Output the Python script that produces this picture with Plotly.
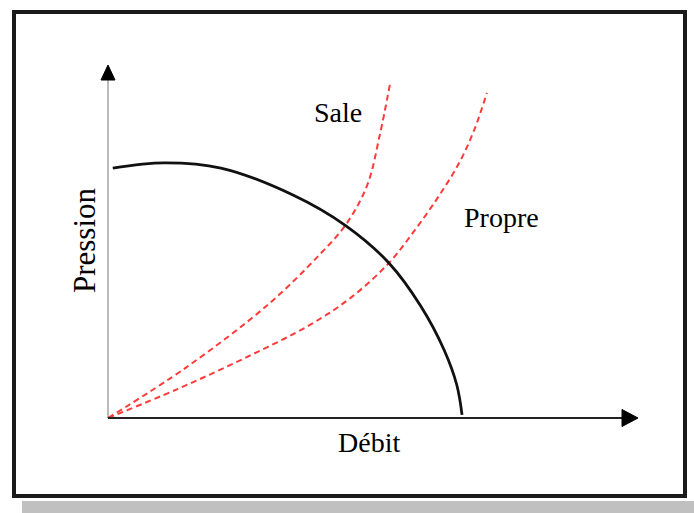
import plotly.graph_objects as go

# Pump curve (Pression vs Débit), arbitrary units 0-100
pump_x = [0.9, 10.6, 21.3, 34.9, 44.9, 53.0, 59.0, 63.4, 65.8, 66.8]
pump_y = [71.4, 72.9, 71.4, 63.7, 54.9, 44.3, 32.0, 19.5, 9.5, 0.9]

# System curve "Sale" (dirty)
sale_x = [0.0, 14.7, 30.2, 40.0, 44.9, 48.9, 51.3, 53.2]
sale_y = [0.0, 14.4, 32.4, 46.8, 55.3, 66.5, 81.0, 95.4]

# System curve "Propre" (clean)
propre_x = [0.0, 13.0, 25.5, 38.1, 46.0, 53.0, 58.0, 62.5, 66.3, 69.1, 71.5]
propre_y = [0.0, 8.2, 16.9, 26.6, 34.6, 44.3, 53.9, 63.6, 73.0, 82.3, 92.9]

labels = {"sale": "Sale", "propre": "Propre", "x": "Débit", "y": "Pression"}

W, H = 694, 513
# pixel mapping: origin at (108, 418); 1 unit = 5.3 px in x, 3.5 px in y
ox, oy, sx, sy = 108, 418, 5.3, 3.5
xr = [(0 - ox) / sx, (W - ox) / sx]
yr = [(oy - H) / sy, oy / sy]

FONT = "Liberation Serif"
RED = "#ff3a3a"

fig = go.Figure()
fig.add_trace(go.Scatter(x=sale_x, y=sale_y, mode="lines", line_shape="spline",
                         line=dict(color=RED, width=2, dash="6px,4px"), hoverinfo="skip"))
fig.add_trace(go.Scatter(x=propre_x, y=propre_y, mode="lines", line_shape="spline",
                         line=dict(color=RED, width=2, dash="6px,4px"), hoverinfo="skip"))
fig.add_trace(go.Scatter(x=pump_x, y=pump_y, mode="lines", line_shape="spline",
                         line=dict(color="#111111", width=2.8), hoverinfo="skip"))

# axes with arrows
ytop = (oy - 80) / sy
ytip = (oy - 65) / sy
xend = (622 - ox) / sx
xtip = (638 - ox) / sx
hw_x = 7 / sx
hh_y = 8.5 / sy
shapes = [
    dict(type="line", x0=0, y0=0, x1=0, y1=ytop, line=dict(color="#777777", width=1)),
    dict(type="line", x0=0, y0=0, x1=xend, y1=0, line=dict(color="#222222", width=2)),
    dict(type="path", path=f"M {-hw_x} {ytop} L {hw_x} {ytop} L 0 {ytip} Z",
         fillcolor="black", line=dict(color="black", width=1)),
    dict(type="path", path=f"M {xend} {-hh_y} L {xend} {hh_y} L {xtip} 0 Z",
         fillcolor="black", line=dict(color="black", width=1)),
    # frame
    dict(type="rect", xref="paper", yref="paper",
         x0=14 / W, x1=685 / W, y0=1 - 496 / H, y1=1 - 12 / H,
         line=dict(color="#1a1a1a", width=4)),
    # shadow bar
    dict(type="rect", xref="paper", yref="paper",
         x0=22 / W, x1=1, y0=0, y1=1 - 501 / H,
         fillcolor="#c0c0c0", line=dict(width=0)),
]

ann = [
    dict(x=43.4, y=87.4, text=labels["sale"], font_size=28),
    dict(x=74.3, y=57.4, text=labels["propre"], font_size=28),
    dict(x=49.2, y=-6.9, text=labels["x"], font_size=28),
    dict(x=-4.3, y=50.9, text=labels["y"], textangle=-90, font_size=31),
]
for a in ann:
    size = a.pop("font_size")
    a.update(xref="x", yref="y", showarrow=False,
             font=dict(family=FONT, size=size, color="black"))

fig.update_layout(
    width=W, height=H, margin=dict(l=0, r=0, t=0, b=0),
    paper_bgcolor="white", plot_bgcolor="white",
    showlegend=False, shapes=shapes, annotations=ann,
    xaxis=dict(range=xr, visible=False, fixedrange=True),
    yaxis=dict(range=yr, visible=False, fixedrange=True),
)
fig.write_html("out.html", config={"displayModeBar": False},
               post_script="document.body.style.margin='0';document.body.style.overflow='hidden';")
